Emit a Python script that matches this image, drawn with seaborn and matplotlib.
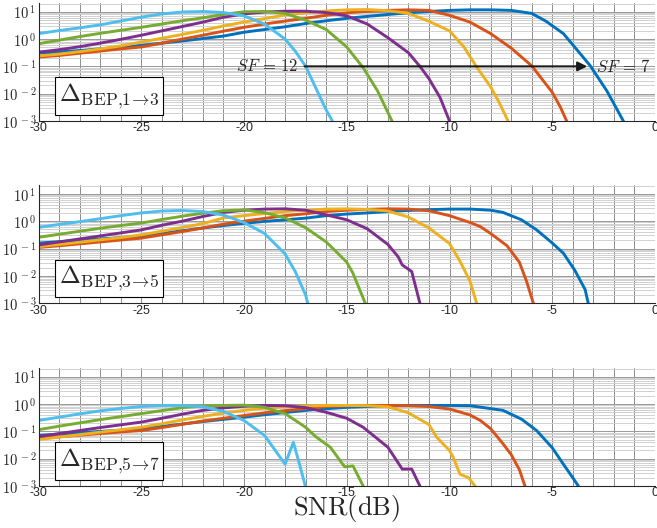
import numpy as np
import pandas as pd
import matplotlib
matplotlib.use('Agg')
import matplotlib.pyplot as plt
from matplotlib.ticker import FixedLocator, LogLocator
import seaborn as sns

# MATLAB default colour order, one per spreading factor
sf_order = [7, 8, 9, 10, 11, 12]
sf_colors = {7: '#0072BD', 8: '#D95319', 9: '#EDB120',
             10: '#7E2F8E', 11: '#77AC30', 12: '#4DBEEE'}

x_ticks = [-30, -25, -20, -15, -10, -5, 0]
x_tick_labels = ['-30', '-25', '-20', '-15', '-10', '-5', '0']
y_ticks = [1e-3, 1e-2, 1e-1, 1e0, 1e1]
y_tick_labels = [r'$10^{\,-3}$', r'$10^{\,-2}$', r'$10^{\,-1}$', r'$10^{\,0}$', r'$10^{\,1}$']

panel_labels = [r'$\Delta_{\mathrm{BEP}{,}1\!\rightarrow\!3}$',
                r'$\Delta_{\mathrm{BEP}{,}3\!\rightarrow\!5}$',
                r'$\Delta_{\mathrm{BEP}{,}5\!\rightarrow\!7}$']

# values are log10 of the BEP delta

# ---- panel 1: 1 -> 3
snr_13 = {
    7: list(range(-30, -5)) + [-5.3, -4.46, -3.9, -3.16, -2.35, -1.54],
    8: list(range(-30, -4)) + [-4.6, -4.3],
    9: list(range(-30, -9)) + [-9.3, -8.7, -8.0, -7.6, -7.15],
    10: list(range(-30, -11)) + [-11.44, -11.0, -10.46, -10.0],
    11: list(range(-30, -14)) + [-14.2, -13.5, -12.8],
    12: list(range(-30, -17)) + [-17.5, -17.0, -16.5, -16.0, -15.7],
}
log_13 = {
    7: [-0.52, -0.47, -0.42, -0.36, -0.30, -0.23, -0.15, -0.07, 0.02, 0.11, 0.25, 0.35,
        0.45, 0.57, 0.67, 0.76, 0.83, 0.90, 0.96, 1.01, 1.05, 1.07, 1.07, 1.05, 0.94,
        0.65, 0.20, -0.30, -0.97, -1.89, -3.0],
    8: [-0.66, -0.60, -0.52, -0.44, -0.36, -0.29, -0.15, 0.0, 0.14, 0.29, 0.43, 0.55,
        0.66, 0.76, 0.87, 0.96, 1.02, 1.05, 1.07, 1.05, 0.87, 0.62, 0.20, -0.33, -0.98,
        -1.95, -2.5, -3.0],
    9: [-0.62, -0.55, -0.46, -0.36, -0.25, -0.11, 0.03, 0.17, 0.32, 0.48, 0.62, 0.75,
        0.88, 0.96, 1.03, 1.07, 1.08, 1.04, 0.94, 0.65, 0.30, -0.29, -1.0, -1.75, -2.3, -3.0],
    10: [-0.48, -0.39, -0.28, -0.15, -0.01, 0.14, 0.30, 0.46, 0.62, 0.80, 0.92, 0.99,
         1.02, 1.02, 0.97, 0.85, 0.55, 0.05, -0.50, -1.0, -1.45, -2.14, -3.0],
    11: [-0.17, -0.04, 0.09, 0.21, 0.32, 0.43, 0.55, 0.67, 0.78, 0.90, 1.00, 1.01,
         0.94, 0.69, 0.35, -0.29, -1.05, -1.9, -3.0],
    12: [0.20, 0.31, 0.41, 0.52, 0.66, 0.80, 0.92, 0.99, 1.01, 0.97, 0.85, 0.55,
         0.0, -0.45, -1.0, -1.8, -2.6, -3.0],
}

# ---- panel 2: 3 -> 5
snr_35 = {
    7: list(range(-30, -7)) + [-7.4, -6.5, -5.76, -5.0, -4.46, -3.9, -3.4, -3.25],
    8: list(range(-30, -8)) + [-8.5, -8.0, -7.2, -6.6, -6.25, -5.92],
    9: list(range(-30, -9)) + [-9.5, -9.0, -8.68],
    10: list(range(-30, -12)) + [-12.5, -12.3, -11.84, -11.44],
    11: list(range(-30, -15)) + [-15.4, -15.0, -14.7, -14.1],
    12: list(range(-30, -17)) + [-17.5, -17.0, -16.9],
}
log_35 = {
    7: [-0.80, -0.75, -0.70, -0.65, -0.60, -0.55, -0.45, -0.35, -0.25, -0.16, -0.08,
        -0.01, 0.05, 0.11, 0.20, 0.26, 0.30, 0.35, 0.39, 0.42, 0.44, 0.44, 0.40,
        0.32, 0.05, -0.32, -0.80, -1.17, -1.8, -2.5, -3.0],
    8: [-0.96, -0.90, -0.83, -0.76, -0.69, -0.62, -0.50, -0.38, -0.25, -0.11, 0.0,
        0.10, 0.20, 0.27, 0.35, 0.40, 0.43, 0.45, 0.44, 0.38, 0.20, -0.05,
        -0.20, -0.45, -0.90, -1.5, -2.2, -3.0],
    9: [-0.93, -0.85, -0.77, -0.68, -0.60, -0.50, -0.37, -0.23, -0.09, 0.12, 0.20,
        0.28, 0.35, 0.40, 0.44, 0.45, 0.43, 0.37, 0.15, -0.25, -0.82, -1.45, -2.2, -3.0],
    10: [-0.87, -0.76, -0.65, -0.54, -0.43, -0.32, -0.15, 0.0, 0.17, 0.32, 0.40, 0.44,
         0.45, 0.40, 0.23, 0.05, -0.28, -0.85, -1.3, -1.6, -1.84, -3.0],
    11: [-0.59, -0.48, -0.37, -0.26, -0.16, -0.07, 0.06, 0.18, 0.29, 0.38, 0.41, 0.31,
         0.12, -0.24, -0.76, -1.2, -1.5, -1.9, -3.0],
    12: [-0.23, -0.12, -0.02, 0.09, 0.20, 0.30, 0.37, 0.39, 0.35, 0.22, -0.05, -0.45,
         -1.2, -1.85, -2.7, -3.0],
}

# ---- panel 3: 5 -> 7
snr_57 = {
    7: list(range(-30, -8)) + [-7.4, -6.5, -5.76, -5.0, -4.46, -4.0, -3.73],
    8: list(range(-30, -8)) + [-8.5, -8.0, -7.4, -7.0, -6.6, -6.33],
    9: list(range(-30, -11)) + [-11.77, -11.0, -10.62, -10.0, -9.82, -9.49, -9.08, -8.76],
    10: list(range(-30, -15)) + [-15.0, -14.2, -13.0, -12.3, -11.84, -11.44],
    11: list(range(-30, -16)) + [-16.5, -15.8, -15.1, -14.7, -14.2],
    12: list(range(-30, -17)) + [-17.6, -17.3, -17.0],
}
log_57 = {
    7: [-1.15, -1.10, -1.05, -1.00, -0.96, -0.91, -0.82, -0.73, -0.64, -0.56, -0.48,
        -0.39, -0.31, -0.23, -0.17, -0.12, -0.09, -0.07, -0.05, -0.05, -0.05, -0.06,
        -0.23, -0.55, -0.97, -1.6, -2.2, -2.7, -3.0],
    8: [-1.26, -1.20, -1.14, -1.08, -1.02, -0.97, -0.86, -0.74, -0.62, -0.52, -0.42,
        -0.32, -0.24, -0.17, -0.09, -0.06, -0.05, -0.05, -0.06, -0.09, -0.18, -0.40,
        -0.60, -0.90, -1.45, -1.85, -2.4, -3.0],
    9: [-1.30, -1.21, -1.12, -1.03, -0.94, -0.85, -0.72, -0.58, -0.45, -0.33, -0.23,
        -0.15, -0.10, -0.07, -0.05, -0.05, -0.06, -0.10, -0.32, -0.42, -0.75, -1.22,
        -1.7, -1.95, -2.57, -2.69, -3.0],
    10: [-1.19, -1.08, -0.97, -0.86, -0.76, -0.66, -0.52, -0.37, -0.23, -0.14, -0.08,
         -0.05, -0.06, -0.13, -0.30, -0.52, -0.85, -1.58, -2.38, -2.38, -3.0],
    11: [-0.94, -0.81, -0.69, -0.57, -0.46, -0.35, -0.24, -0.13, -0.07, -0.05, -0.04,
         -0.12, -0.35, -0.85, -1.2, -1.58, -2.3, -2.26, -3.0],
    12: [-0.60, -0.48, -0.36, -0.25, -0.16, -0.09, -0.05, -0.05, -0.10, -0.27, -0.60,
         -1.15, -2.2, -1.4, -2.2, -3.05],
}

panels = [(snr_13, log_13), (snr_35, log_35), (snr_57, log_57)]


def long_frame(snr, logv):
    rows = []
    for sf in sf_order:
        for s, v in zip(snr[sf], logv[sf]):
            rows.append((sf, s, 10.0 ** v))
    return pd.DataFrame(rows, columns=['SF', 'SNR', 'delta'])


sns.set_theme(style='white')
plt.rcParams['font.family'] = ['Liberation Sans', 'DejaVu Sans']
plt.rcParams['mathtext.fontset'] = 'cm'

fig = plt.figure(figsize=(6.57, 5.28), dpi=100)
# axes boxes in figure fraction: left, bottom, width, height
boxes = [[0.0586, 0.7708, 0.9384, 0.2235],
         [0.0586, 0.4256, 0.9384, 0.2240],
         [0.0586, 0.0795, 0.9384, 0.2235]]

for i, (snr, logv) in enumerate(panels):
    ax = fig.add_axes(boxes[i])
    df = long_frame(snr, logv)
    sns.lineplot(data=df, x='SNR', y='delta', hue='SF', hue_order=sf_order,
                 palette=sf_colors, estimator=None, sort=False, lw=2.1,
                 legend=False, ax=ax)
    ax.set_yscale('log')
    ax.set_xlim(-30, 0)
    ax.set_ylim(1e-3, 10 ** 1.32)

    ax.xaxis.set_major_locator(FixedLocator(x_ticks))
    ax.set_xticklabels(x_tick_labels)
    ax.xaxis.set_minor_locator(FixedLocator(list(range(-30, 1))))
    ax.yaxis.set_major_locator(FixedLocator(y_ticks))
    ax.set_yticklabels(y_tick_labels)
    ax.yaxis.set_minor_locator(LogLocator(base=10, subs=np.arange(2, 10), numticks=20))

    ax.grid(which='major', axis='x', color='0.55', lw=0.7)
    ax.grid(which='minor', axis='x', color='0.55', lw=0.7)
    ax.grid(which='major', axis='y', color='0.6', lw=0.7)
    ax.grid(which='minor', axis='y', color='0.82', lw=0.7)

    ax.tick_params(axis='both', which='major', direction='in', length=3,
                   color='0.15', labelcolor='0.15')
    ax.tick_params(axis='x', which='major', labelsize=9, pad=1)
    ax.tick_params(axis='y', which='major', labelsize=10.5, pad=1.5)
    ax.tick_params(which='minor', length=0)
    ax.set_xlabel('')
    ax.set_ylabel('')
    sns.despine(ax=ax)
    for side in ['left', 'bottom']:
        ax.spines[side].set_color('0.15')
        ax.spines[side].set_linewidth(0.8)

    ax.text(0.033, 0.085, panel_labels[i], transform=ax.transAxes, fontsize=18,
            ha='left', va='bottom', zorder=5,
            bbox=dict(boxstyle='square,pad=0.15', fc='white', ec='black', lw=0.8))

    if i == 0:
        ax.annotate('', xy=(-3.3, 0.1), xytext=(-17.05, 0.1),
                    arrowprops=dict(arrowstyle='-|>', color='k', lw=1.5,
                                    mutation_scale=14, shrinkA=0, shrinkB=0))
        ax.text(-17.35, 0.1, r'$SF\,=\,12$', fontsize=12, ha='right', va='center')
        ax.text(-2.85, 0.1, r'$SF\,=\,7$', fontsize=12, ha='left', va='center')

fig.text(0.528, 0.037, r'$\mathrm{SNR(dB)}$', ha='center', va='center', fontsize=19)

fig.savefig('out.png', dpi=100)
